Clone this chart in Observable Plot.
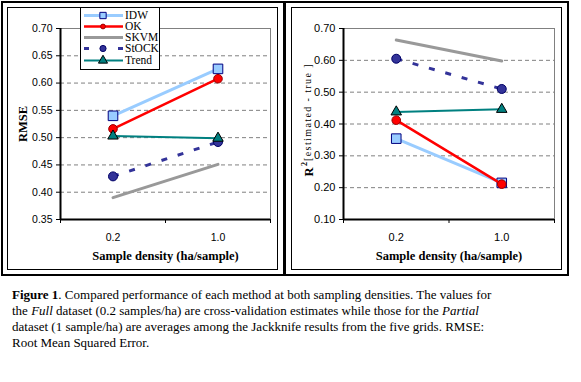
<!DOCTYPE html>
<html><head><meta charset="utf-8">
<script src="https://cdn.jsdelivr.net/npm/d3@7"></script>
<script src="https://cdn.jsdelivr.net/npm/@observablehq/plot@0.6"></script>
<style>
body{margin:0;background:#fff;}
#wrap{position:relative;width:581px;height:382px;background:#fff;overflow:hidden;}
.box{position:absolute;box-sizing:border-box;}
#outer{left:1px;top:1px;width:568px;height:275px;border:2px solid #000;}
#divider{left:283px;top:1px;width:3px;height:275px;background:#000;}
#pl{left:7px;top:7px;width:271px;height:263px;border:1px solid #000;}
#pr{left:291px;top:7px;width:271px;height:263px;border:1px solid #000;}
.chart{position:absolute;top:0;}
.lab4 text{letter-spacing:1.4px;}
#legend{position:absolute;left:80px;top:7px;width:80px;height:63px;box-sizing:border-box;border:1px solid #000;background:#fff;font-family:"Liberation Serif","DejaVu Serif","Times New Roman",serif;font-size:11.5px;}
.row{position:absolute;left:0;height:11px;width:78px;}
.row svg{position:absolute;left:0;top:0;}
.row span{position:absolute;left:44px;top:-2px;line-height:14px;}
#caption{position:absolute;left:12px;top:287px;font-family:"Liberation Serif","DejaVu Serif","Times New Roman",serif;font-size:13px;line-height:16px;white-space:nowrap;color:#000;}
</style>
</head><body>
<div id="wrap">
  <div class="box" id="outer"></div>
  <div class="box" id="divider"></div>
  <div class="box" id="pl"></div>
  <div class="box" id="pr"></div>
  <div class="chart" id="left" style="left:0px"></div>
  <div class="chart" id="right" style="left:286px"></div>
  <div id="legend"></div>
  <div id="caption"><b>Figure 1</b>. Compared performance of each method at both sampling densities. The values for<br>the <i>Full</i> dataset (0.2 samples/ha) are cross-validation estimates while those for the <i>Partial</i><br>dataset (1 sample/ha) are averages among the Jackknife results from the five grids. RMSE:<br>Root Mean Squared Error.</div>
</div>
<script>
// ---- data ----
const densities = ["0.2", "1.0"];
const methods = ["IDW", "OK", "SKVM", "StOCK", "Trend"];
const rmseIDW   = [0.540, 0.626];
const rmseOK    = [0.516, 0.608];
const rmseSKVM  = [0.390, 0.451];
const rmseStOCK = [0.429, 0.492];
const rmseTrend = [0.503, 0.499];
const r2IDW   = [0.354, 0.215];
const r2OK    = [0.412, 0.211];
const r2SKVM  = [0.664, 0.598];
const r2StOCK = [0.605, 0.510];
const r2Trend = [0.438, 0.446];
const rmseTicks = [0.35, 0.40, 0.45, 0.50, 0.55, 0.60, 0.65, 0.70];
const r2Ticks = [0.10, 0.20, 0.30, 0.40, 0.50, 0.60, 0.70];

// ---- styles ----
const styles = {
  IDW:   {stroke: "#99CCFF", width: 3,   dash: null,   symbol: "square",   r: 5.4, fill: "#99CCFF", mstroke: "#000080"},
  OK:    {stroke: "#FF0000", width: 2.5, dash: null,   symbol: "circle",   r: 4.3, fill: "#FF0000", mstroke: "#990000"},
  SKVM:  {stroke: "#999999", width: 3,   dash: null,   symbol: null},
  StOCK: {stroke: "#333399", width: 3,   dash: "6,11", symbol: "circle",   r: 4.5, fill: "#333399", mstroke: "#000066"},
  Trend: {stroke: "#008080", width: 2,   dash: null,   symbol: "triangle", r: 3.9, fill: "#008080", mstroke: "#000000"}
};
const sans = "'Liberation Sans', Arial, sans-serif";
const serif = "'Liberation Serif', 'DejaVu Serif', 'Times New Roman', serif";

function panel(series, yTicks, width, marginLeft, marginRight, fontSize, extra) {
  const rows = methods.flatMap((m, k) => series[k].map((v, i) => ({method: m, pos: i + 0.5, value: v})));
  const marks = [
    Plot.ruleY(yTicks.slice(1, -1), {stroke: "#808080", strokeDasharray: "4,3"}),
    Plot.frame({stroke: "#808080"}),
    Plot.ruleY([yTicks[0]], {stroke: "#000", strokeWidth: 2}),
    Plot.ruleX([0], {stroke: "#000", strokeWidth: 2}),
    Plot.axisY({ticks: yTicks, tickSize: 4, tickPadding: 4, tickFormat: d3.format(".2f"), label: null, fontSize, fontFamily: sans}),
    Plot.axisX({ticks: [0, 1, 2], tickSize: 4, tickFormat: () => "", label: null}),
    Plot.axisX({ticks: [0.5, 1.5], tickSize: 0, tickPadding: 14, tickFormat: i => densities[Math.floor(i)], label: null, fontSize, fontFamily: sans}),
    Plot.text(["Sample density (ha/sample)"], {frameAnchor: "bottom", dy: 40, fontWeight: "bold", fontSize: 12.5, fontFamily: serif})
  ];
  methods.forEach(m => {
    const s = styles[m];
    const d = rows.filter(r => r.method === m);
    marks.push(Plot.line(d, {x: "pos", y: "value", stroke: s.stroke, strokeWidth: s.width, strokeDasharray: s.dash, strokeLinecap: s.dash ? "butt" : "round"}));
    if (s.symbol) marks.push(Plot.dot(d, {x: "pos", y: "value", symbol: s.symbol, r: s.r, fill: s.fill, stroke: s.mstroke, strokeWidth: 1}));
  });
  return Plot.plot({
    width, height: 276, marginLeft, marginRight, marginTop: 28, marginBottom: 57,
    style: {background: "transparent", overflow: "visible", fontFamily: sans},
    x: {type: "linear", domain: [0, 2], axis: null},
    y: {domain: [yTicks[0], yTicks[yTicks.length - 1]], axis: null},
    marks: marks.concat(extra)
  });
}

const leftChart = panel([rmseIDW, rmseOK, rmseSKVM, rmseStOCK, rmseTrend], rmseTicks, 283, 60, 13, 10.5, [
  Plot.text(["RMSE"], {frameAnchor: "middle", dx: -143, rotate: -90, fontWeight: "bold", fontSize: 12.5, fontFamily: serif})
]);
const rightChart = panel([r2IDW, r2OK, r2SKVM, r2StOCK, r2Trend], r2Ticks, 282, 57, 14, 11, [
  Plot.text(["R"], {frameAnchor: "middle", dx: -140.5, dy: 48, rotate: -90, fontWeight: "bold", fontSize: 12.5, fontFamily: serif}),
  Plot.text(["2"], {frameAnchor: "middle", dx: -145, dy: 40, rotate: -90, fontWeight: "bold", fontSize: 8, fontFamily: serif}),
  Plot.text(["[estimated - true ]"], {frameAnchor: "middle", dx: -141.5, dy: -12, rotate: -90, fontSize: 10, fontFamily: serif, className: "lab4"})
]);
document.getElementById("left").appendChild(leftChart);
document.getElementById("right").appendChild(rightChart);

// ---- legend ----
const legend = document.getElementById("legend");
const ns = "http://www.w3.org/2000/svg";
methods.forEach((m, i) => {
  const s = styles[m];
  const row = document.createElement("div");
  row.className = "row";
  row.style.top = (1.5 + 11.25 * i) + "px";
  const svg = document.createElementNS(ns, "svg");
  svg.setAttribute("width", 44); svg.setAttribute("height", 11);
  const line = document.createElementNS(ns, "line");
  line.setAttribute("x1", 3); line.setAttribute("x2", 42);
  line.setAttribute("y1", 5.5); line.setAttribute("y2", 5.5);
  line.setAttribute("stroke", s.stroke); line.setAttribute("stroke-width", s.width);
  if (s.dash) line.setAttribute("stroke-dasharray", "5,29");
  svg.appendChild(line);
  if (s.symbol) {
    const p = document.createElementNS(ns, "path");
    const size = {square: 40, circle: m === "OK" ? 18 : 30, triangle: 36}[s.symbol];
    const sym = {square: d3.symbolSquare, circle: d3.symbolCircle, triangle: d3.symbolTriangle}[s.symbol];
    p.setAttribute("d", d3.symbol(sym, size)());
    p.setAttribute("transform", "translate(22,5.5)");
    p.setAttribute("fill", s.fill); p.setAttribute("stroke", s.mstroke);
    svg.appendChild(p);
  }
  const span = document.createElement("span");
  span.textContent = m;
  row.appendChild(svg); row.appendChild(span);
  legend.appendChild(row);
});
</script>
</body></html>
